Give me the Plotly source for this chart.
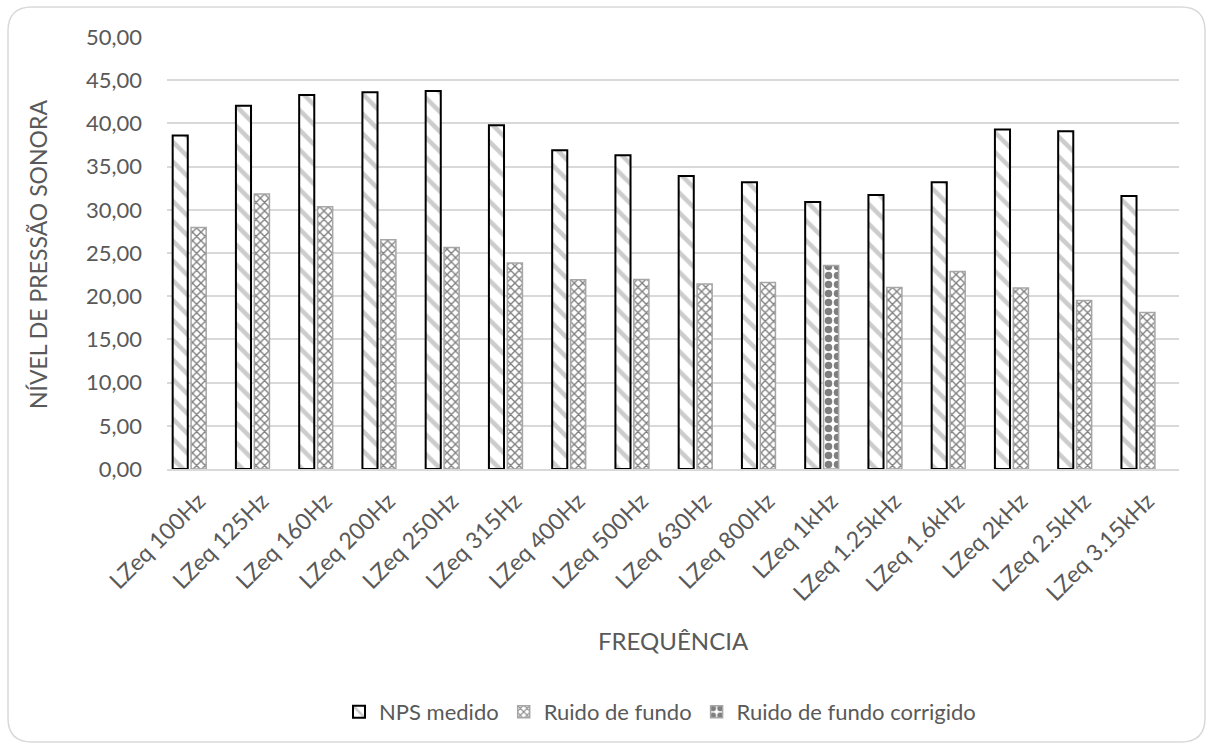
import plotly.graph_objects as go

categories = ["LZeq 100Hz", "LZeq 125Hz", "LZeq 160Hz", "LZeq 200Hz", "LZeq 250Hz",
              "LZeq 315Hz", "LZeq 400Hz", "LZeq 500Hz", "LZeq 630Hz", "LZeq 800Hz",
              "LZeq 1kHz", "LZeq 1.25kHz", "LZeq 1.6kHz", "LZeq 2kHz", "LZeq 2.5kHz",
              "LZeq 3.15kHz"]
nps_medido = [38.6, 42.05, 43.3, 43.6, 43.75, 39.8, 36.9, 36.3, 33.9, 33.2,
              30.9, 31.7, 33.2, 39.3, 39.1, 31.6]
ruido_fundo = [27.96, 31.83, 30.36, 26.54, 25.65, 23.84, 21.9, 21.94, 21.4, 21.6,
               None, 21.0, 22.87, 20.95, 19.5, 18.1]
ruido_corrigido = [None, None, None, None, None, None, None, None, None, None,
                   23.56, None, None, None, None, None]
y_ticks = [0, 5, 10, 15, 20, 25, 30, 35, 40, 45, 50]

W, H = 1207, 745
ML, MR, MT, MB = 167, 28, 37, 276
PW, PH = W - ML - MR, H - MT - MB

FONT = "Lato"
GRAY = "#595959"
LIGHT = "#d9d9d9"

def px(x):
    return (x - ML) / PW

def py(y):
    return (H - MB - y) / PH

fig = go.Figure()
fig.add_trace(go.Bar(
    x=categories, y=nps_medido, name="NPS medido", offsetgroup="a",
    marker=dict(color="white", line=dict(color="#000000", width=2),
                pattern=dict(shape="\\", fgcolor="#9a9a9a", bgcolor="white",
                             size=14, solidity=0.32)),
))
fig.add_trace(go.Bar(
    x=categories, y=ruido_fundo, name="Ruido de fundo", offsetgroup="b",
    marker=dict(color="white", line=dict(color="#a6a6a6", width=1.5),
                pattern=dict(shape="x", fgcolor="#000000", bgcolor="white",
                             size=6, solidity=0.4)),
))
fig.add_trace(go.Bar(
    x=categories, y=ruido_corrigido, name="Ruido de fundo corrigido", offsetgroup="b",
    marker=dict(color="white", line=dict(color="#a6a6a6", width=1.5),
                pattern=dict(shape=".", fgcolor="#000000", bgcolor="white",
                             size=9, solidity=0.55)),
))
# empty third slot (as in the original grouped chart)
fig.add_trace(go.Bar(
    x=categories, y=[None] * len(categories), offsetgroup="c", showlegend=False,
    hoverinfo="skip",
))

r = 24
x0, x1 = px(8), px(1205)
y0, y1 = py(7), py(742)
rx, ry = r / PW, r / PH
path = (f"M {x0+rx},{y0} L {x1-rx},{y0} Q {x1},{y0} {x1},{y0-ry} "
        f"L {x1},{y1+ry} Q {x1},{y1} {x1-rx},{y1} L {x0+rx},{y1} "
        f"Q {x0},{y1} {x0},{y1+ry} L {x0},{y0-ry} Q {x0},{y0} {x0+rx},{y0} Z")

fig.update_layout(
    width=W, height=H,
    margin=dict(l=ML, r=MR, t=MT, b=MB, autoexpand=False),
    paper_bgcolor="white", plot_bgcolor="white",
    barmode="group", bargap=0.127, bargroupgap=0.18,
    separators=",.",
    font=dict(family=FONT, color=GRAY, size=22),
    shapes=[dict(type="path", xref="paper", yref="paper", path=path,
                 line=dict(color=LIGHT, width=1.5), layer="below")],
    annotations=[
        dict(text="FREQUÊNCIA", xref="paper", yref="paper", x=0.5, y=py(640),
             xanchor="center", yanchor="middle", showarrow=False,
             font=dict(size=24, color=GRAY, family=FONT)),
        dict(text="NÍVEL DE PRESSÃO SONORA", xref="paper", yref="paper",
             x=px(38), y=py(255), xanchor="center", yanchor="middle",
             textangle=-90, showarrow=False,
             font=dict(size=23, color=GRAY, family=FONT)),
    ],
    legend=dict(orientation="h", x=px(660), xanchor="center", y=py(712), yanchor="middle",
                font=dict(size=22, color=GRAY, family=FONT), traceorder="normal",
                itemwidth=30),
    showlegend=True,
)
fig.update_xaxes(
    type="category", tickangle=-45, showline=True, linecolor=LIGHT, linewidth=1.5,
    showgrid=False, ticks="", tickfont=dict(size=23, color=GRAY, family=FONT),
    ticklabelstandoff=8, automargin=False,
)
fig.update_yaxes(
    range=[0, 50], tickvals=y_ticks, tickformat=".2f", showgrid=True,
    gridcolor=LIGHT, gridwidth=1.5, zeroline=False, showline=False, ticks="",
    tickfont=dict(size=22, color=GRAY, family=FONT), ticklabelstandoff=24,
    automargin=False,
)

fig.write_html("out.html")
